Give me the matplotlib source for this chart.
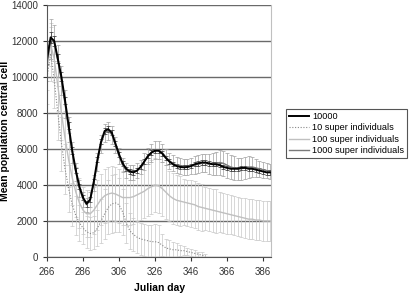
import numpy as np
import matplotlib
matplotlib.use("Agg")
import matplotlib.pyplot as plt
from matplotlib.lines import Line2D

plt.rcParams['font.family'] = ['Liberation Sans', 'DejaVu Sans']

# julian days, every second day
days = np.arange(266, 391, 2)
days_10 = np.arange(266, 355, 2)

n10000 = [11000, 12200, 12000, 11000, 10000, 8700, 7300, 5900, 4800, 3900,
          3300, 2950, 3200, 4200, 5400, 6400, 7000, 7100, 6900, 6300,
          5700, 5200, 4900, 4750, 4700, 4800, 5000, 5300, 5600, 5800,
          5900, 5900, 5750, 5500, 5300, 5150, 5050, 5000, 4980, 5000,
          5050, 5150, 5200, 5250, 5250, 5200, 5150, 5150, 5100, 5000,
          4950, 4900, 4900, 4900, 4950, 4950, 4900, 4900, 4850, 4800,
          4750, 4700, 4700]
n10000_err = [300, 300, 300, 250, 250, 200, 200, 200, 150, 150,
              150, 150, 150, 150, 150, 150, 150, 150, 150, 150,
              150, 150, 120, 120, 120, 120, 120, 120, 120, 120,
              120, 120, 120, 120, 120, 120, 120, 120, 120, 120,
              120, 120, 120, 120, 120, 120, 120, 120, 120, 120,
              120, 120, 120, 120, 120, 120, 120, 120, 120, 120,
              120, 120, 120]

s1000 = [10800, 12100, 11900, 10900, 9800, 8500, 7100, 5800, 4700, 3800,
         3200, 2900, 3200, 4100, 5300, 6300, 6900, 7000, 6800, 6200,
         5600, 5100, 4800, 4700, 4700, 4800, 5000, 5300, 5600, 5800,
         5950, 5950, 5800, 5550, 5350, 5200, 5100, 5050, 5000, 5000,
         5050, 5100, 5150, 5200, 5200, 5150, 5150, 5200, 5250, 5200,
         5100, 5000, 4950, 4900, 4900, 4950, 5000, 5000, 4950, 4900,
         4850, 4800, 4750]
s1000_err = [1000, 1100, 1000, 900, 800, 800, 700, 600, 500, 450,
             400, 400, 400, 450, 500, 500, 500, 500, 500, 450,
             450, 400, 400, 400, 400, 400, 400, 450, 450, 500,
             500, 500, 500, 450, 450, 450, 450, 450, 450, 450,
             450, 500, 500, 500, 500, 550, 600, 650, 700, 700,
             700, 650, 650, 600, 600, 600, 600, 550, 500, 450,
             450, 400, 400]

s100 = [10500, 11800, 11000, 9500, 8000, 6600, 5400, 4400, 3600, 3000,
        2600, 2400, 2400, 2600, 2900, 3200, 3400, 3500, 3550, 3500,
        3400, 3300, 3300, 3300, 3350, 3450, 3550, 3650, 3800, 3900,
        4000, 3950, 3800, 3600, 3400, 3250, 3150, 3100, 3050, 3000,
        2950, 2900, 2800, 2750, 2700, 2650, 2600, 2550, 2500, 2450,
        2400, 2350, 2300, 2250, 2200, 2150, 2100, 2100, 2050, 2050,
        2000, 2000, 2000]
s100_err = [1200, 1200, 1300, 1400, 1500, 1500, 1500, 1500, 1400, 1400,
            1300, 1300, 1300, 1300, 1400, 1400, 1500, 1500, 1500, 1500,
            1500, 1500, 1500, 1500, 1500, 1500, 1500, 1500, 1500, 1500,
            1500, 1500, 1500, 1500, 1400, 1400, 1400, 1400, 1300, 1300,
            1300, 1300, 1300, 1300, 1200, 1200, 1200, 1200, 1100, 1100,
            1100, 1100, 1100, 1100, 1100, 1100, 1100, 1100, 1100, 1100,
            1100, 1100, 1100]

s10 = [10000, 11300, 9800, 8000, 6300, 4900, 3800, 2900, 2300, 1900,
       1600, 1400, 1300, 1350, 1600, 2000, 2400, 2750, 2950, 3000,
       2900, 2500, 1900, 1450, 1250, 1100, 1000, 950, 900, 850,
       850, 800, 650, 500, 450, 400, 400, 350, 350, 300,
       250, 200, 150, 100, 50]
s10_err = [1500, 1500, 1500, 1500, 1500, 1400, 1300, 1200, 1100, 1000,
           900, 900, 900, 900, 1000, 1200, 1400, 1500, 1600, 1600,
           1500, 1300, 1100, 1000, 900, 900, 900, 900, 900, 900,
           1000, 1000, 600, 500, 500, 450, 400, 300, 250, 200,
           200, 200, 150, 150, 100]

fig = plt.figure(figsize=(4.09, 2.93), dpi=100)
ax = fig.add_axes([0.115, 0.123, 0.548, 0.860])

ax.set_axisbelow(True)
ax.yaxis.grid(True, color='#6a6a6a', linewidth=1.0)

eb = dict(elinewidth=0.5, capsize=1.2, capthick=0.5)
ax.errorbar(days_10, s10, yerr=s10_err, color='#888888', ls=(0, (1, 1.5)),
            lw=0.8, ecolor='#c8c8c8', **eb)
ax.errorbar(days, s100, yerr=s100_err, color='#c0c0c0', lw=1.0,
            ecolor='#c8c8c8', **eb)
ax.errorbar(days, s1000, yerr=s1000_err, color='#7a7a7a', lw=1.0,
            ecolor='#a0a0a0', **eb)
ax.errorbar(days, n10000, yerr=n10000_err, color='black', lw=1.4,
            ecolor='#303030', **eb)

ax.set_xlim(266, 390.5)
ax.set_ylim(0, 14000)
ax.set_xticks(np.arange(266, 387, 20))
ax.set_yticks(np.arange(0, 14001, 2000))
ax.tick_params(labelsize=7, colors='#333333', length=3, width=0.8, direction='out')
ax.tick_params(axis='x', pad=4)

for s in ['left', 'bottom']:
    ax.spines[s].set_color('#555555')
ax.spines['top'].set_visible(False)
ax.spines['right'].set_color('#c0c0c0')

ax.set_xlabel('Julian day', fontsize=7.5, fontweight='bold')
ax.set_ylabel('Mean population central cell', fontsize=7.5, fontweight='bold')
ax.xaxis.set_label_coords(0.5, -0.105)
ax.yaxis.set_label_coords(-0.165, 0.5)

handles = [Line2D([], [], color='black', lw=1.4),
           Line2D([], [], color='#888888', lw=0.8, ls=(0, (1, 1.5))),
           Line2D([], [], color='#c0c0c0', lw=1.0),
           Line2D([], [], color='#7a7a7a', lw=1.0)]
labels = ['10000', '10 super individuals', '100 super individuals',
          '1000 super individuals']
leg = fig.legend(handles, labels,
                 loc='center', bbox_to_anchor=(0.847, 0.544),
                 fontsize=6.6, frameon=True, fancybox=False, framealpha=1,
                 edgecolor='#555555', handlelength=2.2, handletextpad=0.3,
                 borderpad=0.3, labelspacing=0.25, borderaxespad=0)
leg.get_frame().set_linewidth(0.8)

fig.savefig('out.png', dpi=100)
